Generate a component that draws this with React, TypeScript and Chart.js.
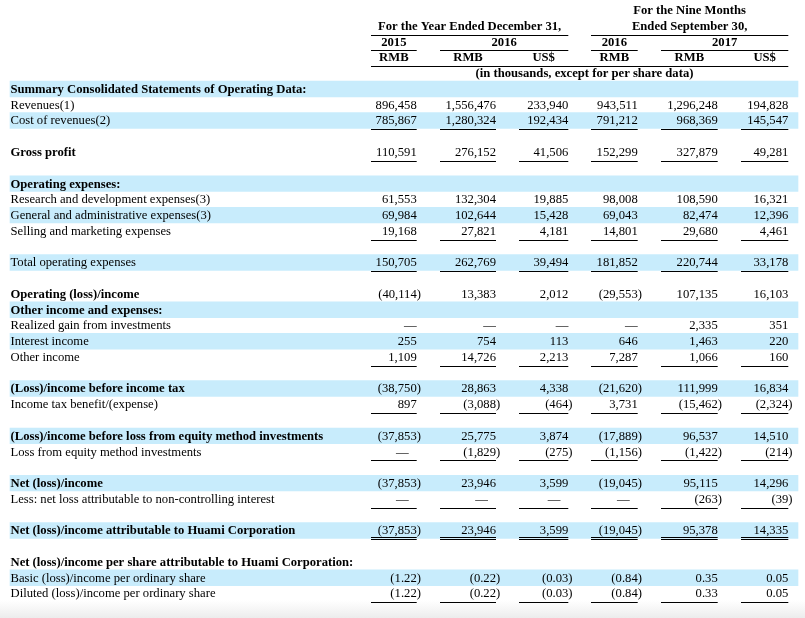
import React, { useEffect, useRef } from "react";
import { Chart, registerables } from "chart.js";

Chart.register(...registerables);

// ---------- Header text ----------
const yearGroupTitle = "For the Year Ended December 31,";
const nineMonthTitleTop = "For the Nine Months";
const nineMonthTitleBottom = "Ended September 30,";
const yearLabels = ["2015", "2016", "2016", "2017"];
const currencyLabels = ["RMB", "RMB", "US$", "RMB", "RMB", "US$"];
const unitNote = "(in thousands, except for per share data)";

// ---------- Values (thousands; EPS in RMB / US$) ----------
const revenues = [896458, 1556476, 233940, 943511, 1296248, 194828];
const costOfRevenues = [785867, 1280324, 192434, 791212, 968369, 145547];
const grossProfit = [110591, 276152, 41506, 152299, 327879, 49281];
const researchDev = [61553, 132304, 19885, 98008, 108590, 16321];
const generalAdmin = [69984, 102644, 15428, 69043, 82474, 12396];
const sellingMarketing = [19168, 27821, 4181, 14801, 29680, 4461];
const totalOpex = [150705, 262769, 39494, 181852, 220744, 33178];
const operatingIncome = [-40114, 13383, 2012, -29553, 107135, 16103];
const realizedGain = [null, null, null, null, 2335, 351];
const interestIncome = [255, 754, 113, 646, 1463, 220];
const otherIncome = [1109, 14726, 2213, 7287, 1066, 160];
const incomeBeforeTax = [-38750, 28863, 4338, -21620, 111999, 16834];
const incomeTax = [897, -3088, -464, 3731, -15462, -2324];
const incomeBeforeEquity = [-37853, 25775, 3874, -17889, 96537, 14510];
const lossFromEquity = [null, -1829, -275, -1156, -1422, -214];
const netIncome = [-37853, 23946, 3599, -19045, 95115, 14296];
const nonControlling = [null, null, null, null, -263, -39];
const netIncomeHuami = [-37853, 23946, 3599, -19045, 95378, 14335];
const basicEps = [-1.22, -0.22, -0.03, -0.84, 0.35, 0.05];
const dilutedEps = [-1.22, -0.22, -0.03, -0.84, 0.33, 0.05];

// ---------- Row labels paired with their values ----------
const tableRows: [string, (number | null)[] | null][] = [
  ["Summary Consolidated Statements of Operating Data:", null],
  ["Revenues(1)", revenues],
  ["Cost of revenues(2)", costOfRevenues],
  ["", null],
  ["Gross profit", grossProfit],
  ["", null],
  ["Operating expenses:", null],
  ["Research and development expenses(3)", researchDev],
  ["General and administrative expenses(3)", generalAdmin],
  ["Selling and marketing expenses", sellingMarketing],
  ["", null],
  ["Total operating expenses", totalOpex],
  ["", null],
  ["Operating (loss)/income", operatingIncome],
  ["Other income and expenses:", null],
  ["Realized gain from investments", realizedGain],
  ["Interest income", interestIncome],
  ["Other income", otherIncome],
  ["", null],
  ["(Loss)/income before income tax", incomeBeforeTax],
  ["Income tax benefit/(expense)", incomeTax],
  ["", null],
  ["(Loss)/income before loss from equity method investments", incomeBeforeEquity],
  ["Loss from equity method investments", lossFromEquity],
  ["", null],
  ["Net (loss)/income", netIncome],
  ["Less: net loss attributable to non-controlling interest", nonControlling],
  ["", null],
  ["Net (loss)/income attributable to Huami Corporation", netIncomeHuami],
  ["", null],
  ["Net (loss)/income per share attributable to Huami Corporation:", null],
  ["Basic (loss)/income per ordinary share", basicEps],
  ["Diluted (loss)/income per ordinary share", dilutedEps],
];

// ---------- Styling (row indices within tableRows) ----------
const boldRows = [0, 4, 6, 13, 14, 19, 22, 25, 28, 30];
const shadedRows = [0, 2, 6, 8, 11, 14, 16, 19, 22, 25, 28, 31];
const singleRuleRows = [2, 4, 9, 11, 17, 20, 23, 26, 32];
const doubleRuleRows = [28];
const perShareRows = [31, 32];

// ---------- Layout ----------
const WIDTH = 805;
const HEIGHT = 618;
const HEADER_ROWS = 5;
const COL_LEFT = [371, 440, 519, 591, 661, 741];
const COL_RIGHT = [416.7, 496, 568.3, 637.7, 717.7, 788.3];
const SHADE_FROM = 10;
const SHADE_TO = 798;
const LABEL_X = 10.5;
const SHADE_COLOR = "#c8ecfc";
const FONT_SIZE = 12.65;
const FONT_FAMILY = '"Liberation Serif", "Times New Roman", serif';
const BASELINE_SHIFT = 3.9;
const RULE_OFFSET = 8.6;

function groupDigits(s: string) {
  return s.replace(/\B(?=(\d{3})+(?!\d))/g, ",");
}
function formatValue(v: number, decimals: number) {
  const abs = Math.abs(v);
  if (decimals > 0) {
    const [i, d] = abs.toFixed(decimals).split(".");
    return groupDigits(i) + "." + d;
  }
  return groupDigits(String(Math.round(abs)));
}

const tablePlugin = {
  id: "financialTable",
  beforeDraw(chart: any) {
    const ctx = chart.ctx as CanvasRenderingContext2D;
    ctx.save();
    ctx.fillStyle = "#ffffff";
    ctx.fillRect(0, 0, chart.width, chart.height);
    const g = ctx.createLinearGradient(0, 600, 0, chart.height);
    g.addColorStop(0, "rgba(238,238,238,0)");
    g.addColorStop(1, "rgba(236,236,236,1)");
    ctx.fillStyle = g;
    ctx.fillRect(0, 600, chart.width, chart.height - 600);
    ctx.restore();
  },
  afterDatasetsDraw(chart: any) {
    const ctx = chart.ctx as CanvasRenderingContext2D;
    const xs = chart.scales.x;
    const ys = chart.scales.y;
    const px = (v: number) => xs.getPixelForValue(v);
    const rowY = (i: number) => ys.getPixelForValue(i);
    const regular = `${FONT_SIZE}px ${FONT_FAMILY}`;
    const bold = `bold ${FONT_SIZE}px ${FONT_FAMILY}`;
    ctx.save();
    ctx.fillStyle = "#000";
    ctx.textBaseline = "alphabetic";

    const hline = (x1: number, x2: number, y: number) => {
      const a = px(x1);
      const b = px(x2);
      ctx.fillRect(a, Math.round(y), b - a, 1);
    };
    const centerText = (t: string, x1: number, x2: number, row: number) => {
      ctx.textAlign = "center";
      ctx.fillText(t, (px(x1) + px(x2)) / 2, rowY(row) + BASELINE_SHIFT);
    };

    // ----- header -----
    ctx.font = bold;
    centerText(nineMonthTitleTop, COL_LEFT[3], COL_RIGHT[5], 0);
    centerText(yearGroupTitle, COL_LEFT[0], COL_RIGHT[2], 1);
    centerText(nineMonthTitleBottom, COL_LEFT[3], COL_RIGHT[5], 1);
    hline(COL_LEFT[0], COL_RIGHT[2], rowY(1) + RULE_OFFSET);
    hline(COL_LEFT[3], COL_RIGHT[5], rowY(1) + RULE_OFFSET);
    const yearSpans = [
      [0, 0],
      [1, 2],
      [3, 3],
      [4, 5],
    ];
    yearSpans.forEach(([a, b], k) => {
      centerText(yearLabels[k], COL_LEFT[a], COL_RIGHT[b], 2);
      hline(COL_LEFT[a], COL_RIGHT[b], rowY(2) + RULE_OFFSET);
    });
    currencyLabels.forEach((c, k) => centerText(c, COL_LEFT[k], COL_RIGHT[k], 3));
    hline(COL_LEFT[0], COL_RIGHT[5], rowY(3) + RULE_OFFSET);
    centerText(unitNote, COL_LEFT[0], SHADE_TO, 4);

    // ----- body -----
    tableRows.forEach(([label, values], r) => {
      const row = r + HEADER_ROWS;
      const yc = rowY(row);
      const base = yc + BASELINE_SHIFT;
      ctx.font = boldRows.includes(r) ? bold : regular;
      ctx.textAlign = "left";
      if (label) ctx.fillText(label, px(LABEL_X), base);
      if (!values) return;
      ctx.font = regular;
      const hasNegative = values.some((v) => v !== null && v < 0);
      const decimals = perShareRows.includes(r) ? 2 : 0;
      values.forEach((v, c) => {
        const right = px(COL_RIGHT[c]);
        ctx.textAlign = "right";
        if (v === null) {
          ctx.fillText("\u2014", hasNegative ? right - 8 : right, base);
        } else if (v < 0) {
          ctx.fillText("(" + formatValue(v, decimals), right, base);
          ctx.textAlign = "left";
          ctx.fillText(")", right, base);
        } else {
          ctx.fillText(formatValue(v, decimals), right, base);
        }
        if (singleRuleRows.includes(r)) {
          hline(COL_LEFT[c], COL_RIGHT[c], yc + RULE_OFFSET);
        }
        if (doubleRuleRows.includes(r)) {
          hline(COL_LEFT[c], COL_RIGHT[c], yc + RULE_OFFSET - 2.3);
          hline(COL_LEFT[c], COL_RIGHT[c], yc + RULE_OFFSET + 0.4);
        }
      });
    });
    ctx.restore();
  },
};

export default function App() {
  const canvasRef = useRef<HTMLCanvasElement | null>(null);

  useEffect(() => {
    document.body.style.margin = "0";
    const canvas = canvasRef.current;
    if (!canvas) return;
    const totalRows = HEADER_ROWS + tableRows.length;
    const labels = Array.from({ length: totalRows }, (_, i) =>
      i < HEADER_ROWS ? `header-${i}` : tableRows[i - HEADER_ROWS][0] || `spacer-${i}`
    );
    const shading = labels.map((_, i) =>
      i >= HEADER_ROWS && shadedRows.includes(i - HEADER_ROWS) ? [SHADE_FROM, SHADE_TO] : null
    );
    const chart = new Chart(canvas, {
      type: "bar",
      data: {
        labels,
        datasets: [
          {
            data: shading as any,
            backgroundColor: SHADE_COLOR,
            borderWidth: 0,
            barPercentage: 1,
            categoryPercentage: 1,
          },
        ],
      },
      options: {
        indexAxis: "y",
        responsive: false,
        animation: false,
        events: [],
        layout: { padding: { left: 0, right: 0, top: 2.3, bottom: 16.6 } },
        plugins: { legend: { display: false }, tooltip: { enabled: false } },
        scales: {
          x: { type: "linear", min: 0, max: WIDTH, display: false },
          y: { type: "category", display: false, offset: true },
        },
      },
      plugins: [tablePlugin],
    });
    return () => chart.destroy();
  }, []);

  return (
    <canvas
      ref={canvasRef}
      width={WIDTH}
      height={HEIGHT}
      style={{ display: "block", width: WIDTH, height: HEIGHT }}
    />
  );
}
